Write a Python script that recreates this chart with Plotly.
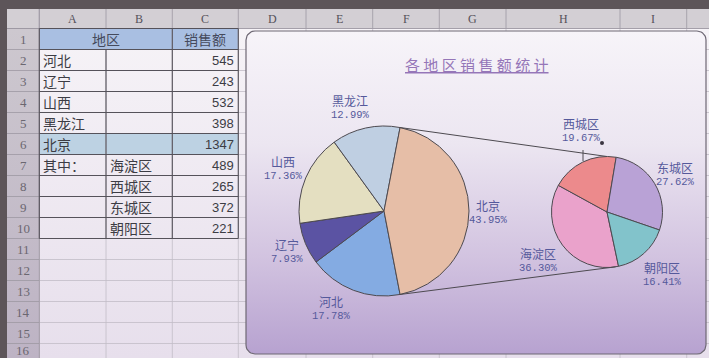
import math
import plotly.graph_objects as go

W, H = 709, 358

# ---- worksheet data ----
regions = ['河北', '辽宁', '山西', '黑龙江', '北京']
region_sales = [545, 243, 532, 398, 1347]
districts = ['海淀区', '西城区', '东城区', '朝阳区']
district_sales = [489, 265, 372, 221]
header_labels = ['地区', '销售额']
subtotal_label = '其中：'
col_letters = ['A', 'B', 'C', 'D', 'E', 'F', 'G', 'H', 'I']
chart_title = '各地区销售额统计'

# ---- styling ----
region_colors = ['#84abe2', '#5b53a3', '#e4dfc1', '#bfcfe2', '#e6bea7']
district_colors = ['#eaa2cb', '#ec8a8c', '#b9a2d6', '#82c3cb']
label_color = '#55599b'
cell_text = '#3c3c44'

col_edges = [7, 39.3, 106, 172.3, 238.3, 306, 372.7, 439.3, 506, 620, 686.7, 709]
row_top, row_h, n_rows = 28.5, 21.0, 16
row_edges = [row_top + i * row_h for i in range(n_rows + 1)]

# chart box and pie geometry (pixels)
box = dict(x0=246, y0=31, x1=706, y1=354, r=9)
main_pie = dict(cx=384, cy=211, r=85)
sub_pie = dict(cx=607, cy=212, r=55.5)

main_label_pos = {'黑龙江': (350, 100), '山西': (283, 161), '辽宁': (287, 244),
                  '河北': (331, 301), '北京': (488, 205)}
sub_label_pos = {'西城区': (581, 123), '东城区': (675, 167),
                 '海淀区': (538, 253), '朝阳区': (662, 267)}

fig = go.Figure()


def rect(x0, y0, x1, y1, color=None, gradient=None):
    kw = dict(x=[x0, x1, x1, x0, x0], y=[y0, y0, y1, y1, y0], mode='lines',
              line=dict(width=0), fill='toself', hoverinfo='skip', showlegend=False)
    if gradient:
        kw['fillgradient'] = dict(type='vertical', colorscale=gradient, start=y0, stop=y1)
    else:
        kw['fillcolor'] = color
    fig.add_trace(go.Scatter(**kw))


def segments(segs, color, width, dash='solid'):
    xs, ys = [], []
    for (x0, y0, x1, y1) in segs:
        xs += [x0, x1, None]
        ys += [y0, y1, None]
    fig.add_trace(go.Scatter(x=xs, y=ys, mode='lines', hoverinfo='skip', showlegend=False,
                             line=dict(color=color, width=width, dash=dash)))


# frame, headers and sheet background
rect(0, 0, W, H, '#5d5559')
rect(col_edges[1], row_top, W, H, gradient=[[0, '#f6f3f7'], [1, '#e7dfec']])
rect(col_edges[0], 9, W, row_top, '#d3cfd4')
rect(col_edges[0], row_top, col_edges[1], H, gradient=[[0, '#cdc8cf'], [1, '#bdb3c4']])

# filled cells: header row and the 北京 row
rect(col_edges[1], row_edges[0], col_edges[4], row_edges[1], '#a9bfe2')
rect(col_edges[1], row_edges[5], col_edges[4], row_edges[6], '#bdd2e3')

# light gridlines
light = []
for y in row_edges:
    light.append((col_edges[1], y, W, y))
for x in col_edges[2:-1]:
    light.append((x, row_top, x, H))
segments(light, '#c2bdc7', 0.8)

# header separators
hdr = [(x, 9, x, row_top) for x in col_edges[1:-1]]
hdr += [(col_edges[0], y, col_edges[1], y) for y in row_edges]
hdr += [(col_edges[0], row_top, W, row_top), (col_edges[1], 9, col_edges[1], H)]
segments(hdr, '#9d98a2', 0.8)

# table borders around A1:C10
n_table = 1 + len(regions) + len(districts)
dark = [(col_edges[1], row_edges[i], col_edges[4], row_edges[i]) for i in range(n_table + 1)]
for x in (col_edges[1], col_edges[3], col_edges[4]):
    dark.append((x, row_edges[0], x, row_edges[n_table]))
dark.append((col_edges[2], row_edges[1], col_edges[2], row_edges[n_table]))
segments(dark, '#55525a', 1.1)

# chart area with rounded corners and a vertical gradient
def rounded_path(x0, y0, x1, y1, r, n=10):
    xs, ys = [], []
    corners = [(x1 - r, y0 + r, -90, 0), (x1 - r, y1 - r, 0, 90),
               (x0 + r, y1 - r, 90, 180), (x0 + r, y0 + r, 180, 270)]
    for cx, cy, a0, a1 in corners:
        for k in range(n + 1):
            a = math.radians(a0 + (a1 - a0) * k / n)
            xs.append(cx + r * math.cos(a))
            ys.append(cy + r * math.sin(a))
    xs.append(xs[0]); ys.append(ys[0])
    return xs, ys


bx, by = rounded_path(box['x0'], box['y0'], box['x1'], box['y1'], box['r'])
fig.add_trace(go.Scatter(
    x=bx, y=by, mode='lines', fill='toself', hoverinfo='skip', showlegend=False,
    line=dict(color='#6e6874', width=1.2),
    fillgradient=dict(type='vertical', start=box['y0'], stop=box['y1'],
                      colorscale=[[0, '#f7f4f9'], [0.35, '#ece6f1'],
                                  [0.7, '#d2c3e0'], [1, '#b7a2d0']])))


def domain_of(p):
    return dict(x=[(p['cx'] - p['r']) / W, (p['cx'] + p['r']) / W],
                y=[1 - (p['cy'] + p['r']) / H, 1 - (p['cy'] - p['r']) / H])


total = sum(region_sales)
split_share = region_sales[-1] / total
split_span = 360 * split_share
# the split slice (北京) is centred on 3 o'clock; the first slice starts right after it
main_rotation = 90 + split_span / 2

fig.add_trace(go.Pie(
    labels=regions, values=region_sales, sort=False, direction='clockwise',
    rotation=main_rotation, domain=domain_of(main_pie), textinfo='none',
    hoverinfo='skip', showlegend=False,
    marker=dict(colors=region_colors, line=dict(color='#4d4a50', width=1))))

sub_total = sum(district_sales)
fig.add_trace(go.Pie(
    labels=districts, values=district_sales, sort=False, direction='clockwise',
    rotation=168, domain=domain_of(sub_pie), textinfo='none',
    hoverinfo='skip', showlegend=False,
    marker=dict(colors=district_colors, line=dict(color='#4d4a50', width=1))))


def on_circle(p, deg):
    a = math.radians(deg)
    return p['cx'] + p['r'] * math.sin(a), p['cy'] - p['r'] * math.cos(a)


# connector lines from the split slice to the secondary pie
t0 = on_circle(main_pie, 90 - split_span / 2)
b0 = on_circle(main_pie, 90 + split_span / 2)
t1 = on_circle(sub_pie, 0)
b1 = on_circle(sub_pie, 171)
shapes = [
    dict(type='line', x0=t0[0], y0=t0[1], x1=t1[0], y1=t1[1], line=dict(color='#4d4a50', width=1)),
    dict(type='line', x0=b0[0], y0=b0[1], x1=b1[0], y1=b1[1], line=dict(color='#4d4a50', width=1)),
    dict(type='line', x0=583, y0=150, x1=583, y1=161, line=dict(color='#4d4a50', width=1)),
    dict(type='circle', x0=600, y0=141, x1=604, y1=145, fillcolor='#3a3540', line=dict(width=0)),
]

ann = []


def text(x, y, s, size, color, family, xanchor='center'):
    ann.append(dict(x=x, y=y, text=s, showarrow=False, xanchor=xanchor, yanchor='middle',
                    font=dict(size=size, color=color, family=family)))


cjk = 'Noto Sans CJK SC'
mono = 'Liberation Mono'

# pie labels: name and share
for name, v in zip(regions, region_sales):
    x, y = main_label_pos[name]
    text(x, y, name, 12, label_color, cjk)
    text(x, y + 15, f'{100 * v / total:.2f}%', 10.5, label_color, mono)
for name, v in zip(districts, district_sales):
    x, y = sub_label_pos[name]
    text(x, y, name, 12, label_color, cjk)
    text(x, y + 15, f'{100 * v / sub_total:.2f}%', 10.5, label_color, mono)

# chart title (underlined)
ann.append(dict(x=(box['x0'] + box['x1']) / 2 + 1, y=64, text=' '.join(chart_title),
                showarrow=False, xanchor='center', yanchor='middle',
                font=dict(size=15, color='#9576b8', family=cjk, lineposition='under')))

# column letters and row numbers
for i, c in enumerate(col_letters):
    text((col_edges[i + 1] + col_edges[i + 2]) / 2, 19, c, 12, '#55525a', 'Liberation Serif')
for i in range(n_rows):
    y = min(row_top + row_h * (i + 0.5), H - 8)
    text(23, y, str(i + 1), 13, '#6b6770', 'Liberation Serif')

# worksheet cells
def row_mid(r):
    return row_top + row_h * (r - 0.5)


text((col_edges[1] + col_edges[3]) / 2, row_mid(1), header_labels[0], 14, '#454a5c', cjk)
text((col_edges[3] + col_edges[4]) / 2, row_mid(1), header_labels[1], 14, '#454a5c', cjk)
for k, (name, v) in enumerate(zip(regions, region_sales)):
    text(col_edges[1] + 2, row_mid(k + 2), name, 14, cell_text, cjk, 'left')
    text(col_edges[4] - 2, row_mid(k + 2), str(v), 13, cell_text, 'Liberation Sans', 'right')
start = len(regions) + 2
text(col_edges[1] + 2, row_mid(start), subtotal_label, 14, cell_text, cjk, 'left')
for k, (name, v) in enumerate(zip(districts, district_sales)):
    text(col_edges[2] + 2, row_mid(start + k), name, 14, cell_text, cjk, 'left')
    text(col_edges[4] - 2, row_mid(start + k), str(v), 13, cell_text, 'Liberation Sans', 'right')

fig.update_layout(
    width=W, height=H, autosize=False, margin=dict(l=0, r=0, t=0, b=0, pad=0),
    paper_bgcolor='#5d5559', plot_bgcolor='#5d5559', showlegend=False,
    xaxis=dict(range=[0, W], visible=False, fixedrange=True),
    yaxis=dict(range=[H, 0], visible=False, fixedrange=True),
    shapes=shapes, annotations=ann)

fig.write_html('out.html')
